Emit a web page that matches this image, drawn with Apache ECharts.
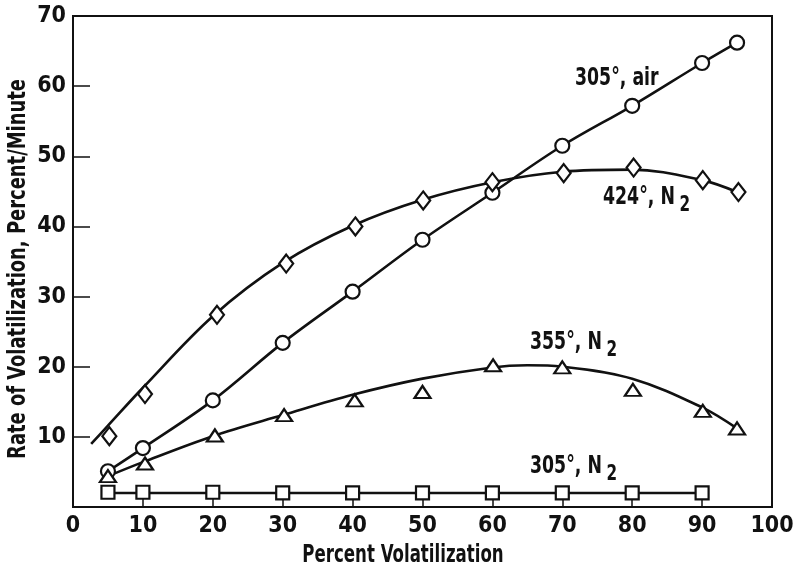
<!DOCTYPE html>
<html>
<head>
<meta charset="utf-8">
<script src="https://cdn.jsdelivr.net/npm/echarts@6/dist/echarts.min.js"></script>
<style>
  html, body { margin: 0; padding: 0; background: #fff; }
  #chart { width: 798px; height: 572px; }
</style>
</head>
<body>
<div id="chart"></div>
<script>
// Percent volatilization (x) at which each rate was measured
const xAir305 = [5, 10, 20, 30, 40, 50, 60, 70, 80, 90, 95];
const yAir305 = [5.1, 8.4, 15.2, 23.4, 30.7, 38.1, 44.8, 51.5, 57.2, 63.3, 66.2];

const xN2_424 = [5.2, 10.3, 20.6, 30.5, 40.4, 50.1, 60, 70.2, 80.2, 90.1, 95.2];
const yN2_424 = [10.1, 16.1, 27.4, 34.7, 40.0, 43.7, 46.3, 47.6, 48.4, 46.6, 44.9];

const xN2_355 = [5, 10.3, 20.3, 30.2, 40.3, 50, 60.1, 70, 80.1, 90.1, 95];
const yN2_355 = [4.4, 6.2, 10.2, 13.1, 15.2, 16.4, 20.2, 19.9, 16.7, 13.7, 11.2];

const xN2_305 = [5, 10, 20, 30, 40, 50, 60, 70, 80, 90];
const yN2_305 = [2.1, 2.1, 2.1, 2.0, 2.0, 2.0, 2.0, 2.0, 2.0, 2.0];

// Smoothed trend curves drawn through each data set
const curveAirX = [5, 10, 20, 30, 40, 50, 60, 70, 80, 90, 95];
const curveAirY = [5.1, 8.4, 15.2, 23.4, 30.7, 38.1, 44.8, 51.5, 57.2, 63.3, 66.2];
const curve424X = [2.6, 5, 10, 20, 30, 40, 50, 60, 70, 80, 90, 95];
const curve424Y = [9.0, 11.6, 17.0, 27.2, 34.8, 40.1, 43.8, 46.3, 47.8, 48.1, 46.6, 44.9];
const curve355X = [5, 10, 20, 30, 40, 50, 60, 65, 70, 80, 90, 95];
const curve355Y = [4.4, 6.4, 10.1, 13.1, 16.0, 18.3, 19.9, 20.2, 20.0, 18.3, 14.2, 11.2];
const curve305X = [5, 90];
const curve305Y = [2.0, 2.0];

// Axis ticks
const xTicks = [0, 10, 20, 30, 40, 50, 60, 70, 80, 90, 100];
const yTicks = [0, 10, 20, 30, 40, 50, 60, 70];

const seriesNames = ['305°, air', '424°, N', '355°, N', '305°, N'];

const FONT = "'Liberation Sans Narrow', 'DejaVu Sans Condensed', 'Roboto Condensed', sans-serif";
const INK = '#111';

const zip = (xs, ys) => xs.map((x, i) => [x, ys[i]]);

function curve(xs, ys) {
  return {
    type: 'line', data: zip(xs, ys), smooth: 0.35, symbol: 'none',
    lineStyle: { color: INK, width: 2.6 }, z: 2, silent: true
  };
}
function marks(xs, ys, symbol, size) {
  return {
    type: 'scatter', data: zip(xs, ys), symbol: symbol, symbolSize: size,
    itemStyle: { color: '#fff', borderColor: INK, borderWidth: 2.2, opacity: 1 }, z: 3
  };
}

// Condensed bold caption; the horizontal squeeze narrows the glyphs
function caption(x, y, text, size, squeeze, extra) {
  return Object.assign({
    type: 'text', x: x, y: y, scaleX: squeeze, scaleY: 1,
    style: {
      text: text, fill: INK, font: 'bold ' + size + 'px ' + FONT,
      align: 'left', verticalAlign: 'middle',
      rich: {
        a: { fontFamily: FONT, fontWeight: 'bold', fontSize: size, fill: INK },
        s: { fontFamily: FONT, fontWeight: 'bold', fontSize: size - 3, fill: INK, padding: [16, 0, 0, 6] }
      }
    }
  }, extra || {});
}

const chart = echarts.init(document.getElementById('chart'), null, { renderer: 'canvas' });
chart.setOption({
  backgroundColor: '#fff',
  animation: false,
  grid: {
    left: 73, right: 26, top: 16, bottom: 65,
    show: true, borderColor: INK, borderWidth: 2, backgroundColor: 'transparent'
  },
  xAxis: {
    type: 'value', min: xTicks[0], max: xTicks[xTicks.length - 1], interval: 10,
    axisLine: { onZero: false, lineStyle: { color: INK, width: 2 } },
    axisTick: { inside: true, length: 10, lineStyle: { color: INK, width: 1.5 } },
    splitLine: { show: false },
    axisLabel: { margin: 8, color: INK, fontFamily: FONT, fontWeight: 'bold', fontSize: 23 }
  },
  yAxis: {
    type: 'value', min: yTicks[0], max: yTicks[yTicks.length - 1], interval: 10,
    axisLine: { lineStyle: { color: INK, width: 2 } },
    axisTick: { inside: true, length: 17, lineStyle: { color: INK, width: 1.5 } },
    splitLine: { show: false },
    axisLabel: {
      margin: 7, color: INK, fontFamily: FONT, fontWeight: 'bold', fontSize: 23,
      formatter: v => (v === 0 ? '' : String(v))
    }
  },
  series: [
    curve(curveAirX, curveAirY),
    curve(curve424X, curve424Y),
    curve(curve355X, curve355Y),
    curve(curve305X, curve305Y),
    marks(xAir305, yAir305, 'circle', 14),
    marks(xN2_424, yN2_424, 'diamond', [14, 18]),
    marks(xN2_355, yN2_355, 'triangle', [16, 12]),
    marks(xN2_305, yN2_305, 'rect', 13)
  ],
  graphic: [
    {
      type: 'text', x: 19, y: 269, rotation: Math.PI / 2, scaleX: 0.83,
      style: {
        text: 'Rate of Volatilization, Percent/Minute', fill: INK,
        font: 'bold 24px ' + FONT, align: 'center', verticalAlign: 'middle'
      }
    },
    {
      type: 'text', x: 403, y: 556, scaleX: 0.77,
      style: {
        text: 'Percent Volatilization', fill: INK,
        font: 'bold 24px ' + FONT, align: 'center', verticalAlign: 'middle'
      }
    },
    caption(575, 78, '{a|' + seriesNames[0] + '}', 25, 0.77),
    caption(603, 197, '{a|' + seriesNames[1] + '}{s|2}', 25, 0.77),
    caption(530, 342, '{a|' + seriesNames[2] + '}{s|2}', 25, 0.77),
    caption(530, 466, '{a|' + seriesNames[3] + '}{s|2}', 25, 0.77)
  ]
});
</script>
</body>
</html>
